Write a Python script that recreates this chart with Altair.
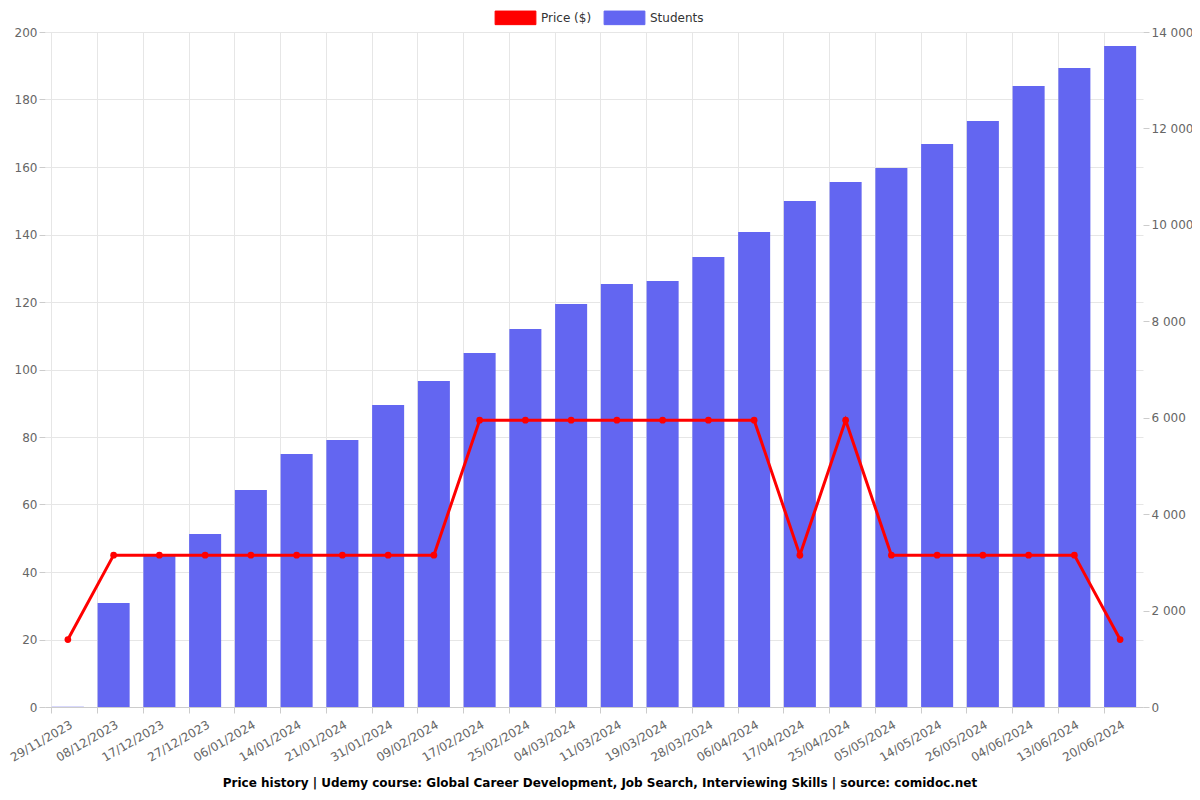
import altair as alt
import pandas as pd

dates = ["29/11/2023", "08/12/2023", "17/12/2023", "27/12/2023", "06/01/2024", "14/01/2024",
         "21/01/2024", "31/01/2024", "09/02/2024", "17/02/2024", "25/02/2024", "04/03/2024",
         "11/03/2024", "19/03/2024", "28/03/2024", "06/04/2024", "17/04/2024", "25/04/2024",
         "05/05/2024", "14/05/2024", "26/05/2024", "04/06/2024", "13/06/2024", "20/06/2024"]
students = [5, 2157, 3153, 3588, 4501, 5247, 5538, 6264, 6761, 7342, 7840, 8359,
            8773, 8836, 9333, 9852, 10495, 10889, 11179, 11677, 12154, 12880, 13253, 13710]
prices = [19.99, 44.99, 44.99, 44.99, 44.99, 44.99, 44.99, 44.99, 44.99, 84.99, 84.99, 84.99,
          84.99, 84.99, 84.99, 84.99, 44.99, 84.99, 44.99, 44.99, 44.99, 44.99, 44.99, 19.99]

df = pd.DataFrame({"date": dates, "students": students, "price": prices})
df["s_series"] = "Students"
df["p_series"] = "Price ($)"

FONT = "DejaVu Sans"
color_scale = alt.Scale(domain=["Price ($)", "Students"], range=["#ff0000", "#6366f1"])

x = alt.X("date:N", sort=dates, title=None,
          scale=alt.Scale(paddingInner=0.3, paddingOuter=0.15),
          axis=alt.Axis(labelAngle=-30, labelAlign="right", labelBaseline="top",
                        bandPosition=0, labelOffset=1, labelPadding=6,
                        grid=True, gridColor="#e6e6e6", tickColor="#cccccc",
                        domainColor="#cccccc", labelColor="#666666", labelFontSize=12,
                        labelFont=FONT, tickSize=6))

bars = alt.Chart(df).mark_bar().encode(
    x=x,
    y=alt.Y("students:Q", title=None,
            scale=alt.Scale(domain=[0, 14000]),
            axis=alt.Axis(orient="right", values=list(range(0, 14001, 2000)), grid=False,
                          labelExpr="replace(format(datum.value, ','), ',', ' ')",
                          labelColor="#666666", labelFontSize=12, labelFont=FONT,
                          domain=False, tickColor="#cccccc", tickSize=6)),
    color=alt.Color("s_series:N", scale=color_scale,
                    legend=alt.Legend(title=None, orient="none", direction="horizontal",
                                      legendX=456, legendY=-29,
                                      symbolType="M-1.5,-0.5H1.5V0.5H-1.5Z", symbolSize=740,
                                      symbolStrokeWidth=1, symbolOpacity=0.85,
                                      labelFont=FONT, labelFontSize=12, labelOffset=11,
                                      labelColor="#333333", columnPadding=10)),
)

y_left = alt.Y("price:Q", title=None, scale=alt.Scale(domain=[0, 200]),
               axis=alt.Axis(orient="left", values=list(range(0, 201, 20)), grid=True,
                             gridColor="#e6e6e6", labelColor="#666666", labelFontSize=12,
                             labelFont=FONT, domain=False, tickColor="#cccccc", tickSize=6))

line = alt.Chart(df).mark_line(strokeWidth=3).encode(
    x=alt.X("date:N", sort=dates),
    y=y_left,
    color=alt.Color("p_series:N", scale=color_scale),
)
points = alt.Chart(df).mark_point(filled=True, size=45, opacity=1).encode(
    x=alt.X("date:N", sort=dates),
    y=alt.Y("price:Q"),
    color=alt.Color("p_series:N", scale=color_scale),
)

chart = alt.layer(bars, line + points).resolve_scale(y="independent").properties(
    width=1098, height=675,
    autosize=alt.AutoSizeParams(type="none"),
    title=alt.TitleParams("Price history | Udemy course: Global Career Development, Job Search, Interviewing Skills | source: comidoc.net",
                          orient="bottom", anchor="middle", font=FONT, fontSize=12,
                          fontWeight="bold", color="#000000", offset=15, dx=6),
    padding={"left": 37, "right": 49, "top": 24, "bottom": 85},
).configure_view(stroke=None).configure_axis(labelFont=FONT).configure_legend(padding=0)

chart.save("out.html", embed_options={"renderer": "svg", "actions": False})
